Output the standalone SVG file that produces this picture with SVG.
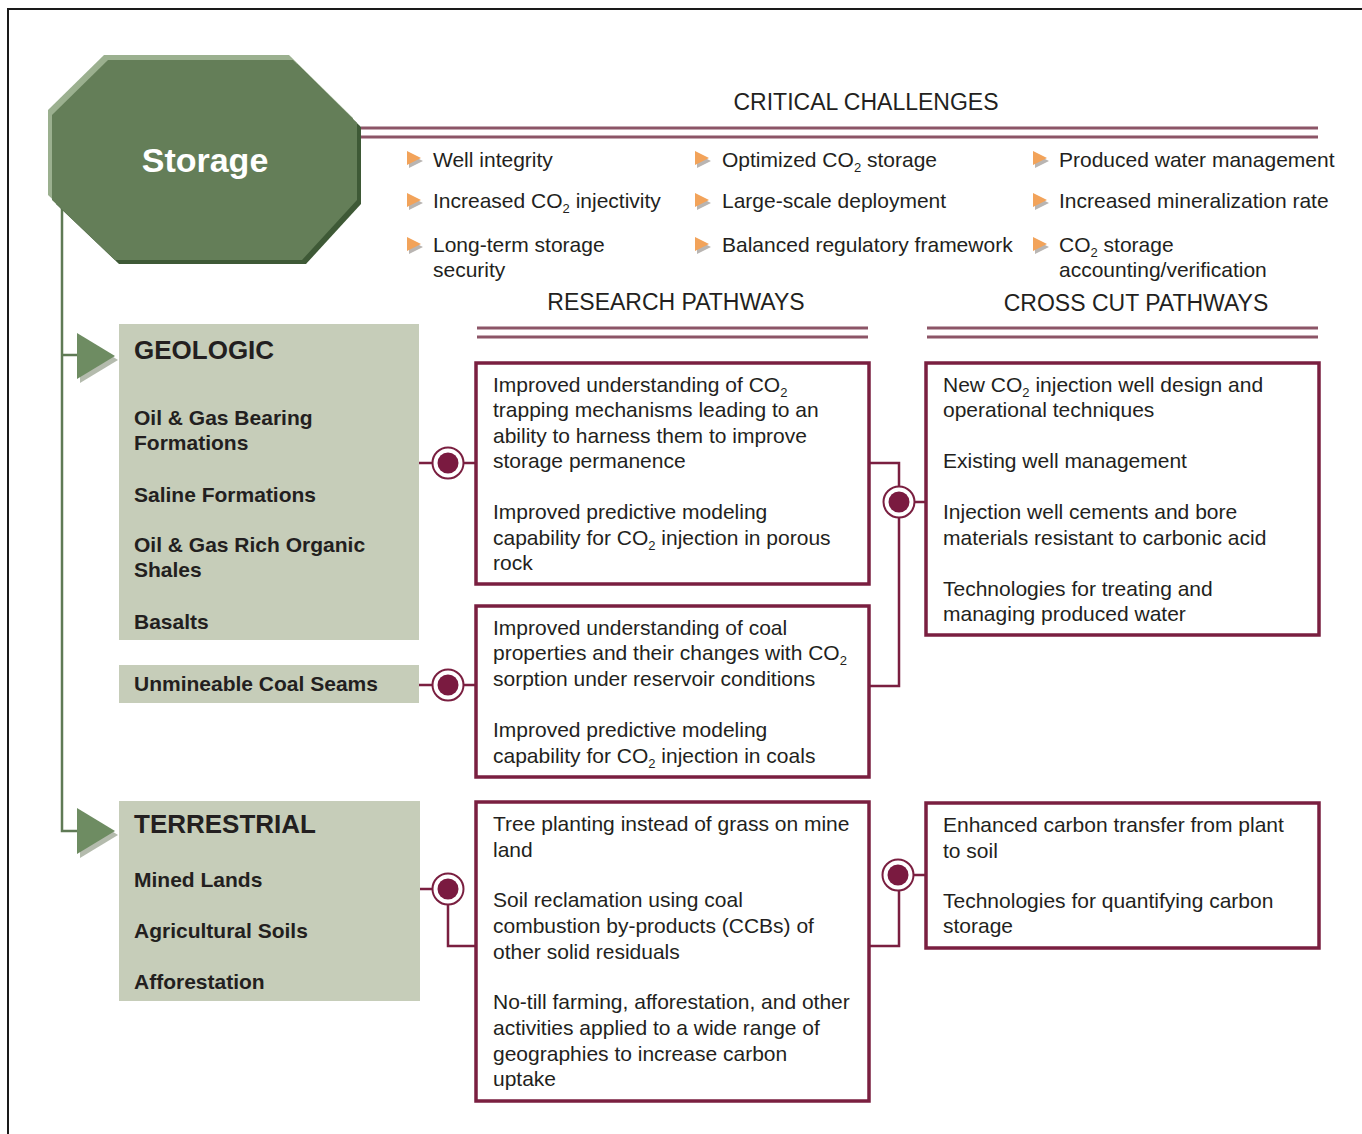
<svg xmlns="http://www.w3.org/2000/svg" xmlns:xlink="http://www.w3.org/1999/xlink" width="1362" height="1134" viewBox="0 0 1362 1134">
<style>
  text { font-family: "Liberation Sans", Arial, sans-serif; fill: #231f20; }
  .hdr { font-size: 23px; }
  .t { font-size: 21px; }
  .b { font-size: 21px; font-weight: bold; }
  .ttl { font-size: 26px; font-weight: bold; }
  .sub { font-size: 13px; }
  .box { fill: #ffffff; stroke: #7a1f40; stroke-width: 3.5; }
  .sage { fill: #c6cdb9; }
  .dl { stroke: #8c5567; stroke-width: 3; fill: none; }
  .conn { stroke: #7a1f40; stroke-width: 2.5; fill: none; }
  .gline { stroke: #5f7a55; stroke-width: 2.5; fill: none; }
</style>
<defs>
  <g id="bul">
    <polygon points="2,3 16,10 2,17" fill="#b9b5b2"/>
    <polygon points="0,0 14,7 0,14" fill="#f2a35a"/>
  </g>
  <g id="dot">
    <circle r="15.5" fill="#ffffff" stroke="#7a1f40" stroke-width="2"/>
    <circle r="10.5" fill="#7a1a40"/>
  </g>
  <g id="arr">
    <polygon points="3,3 41,27 3,50" fill="#b4bbad"/>
    <polygon points="0,0 38,23 0,46" fill="#6e8c62"/>
  </g>
</defs>
<rect x="8" y="9" width="1380" height="1150" fill="#ffffff" stroke="#1a1a1a" stroke-width="2"/>

<g id="connectors">
  <path class="gline" d="M62,205 V831 H78 M62,355 H78"/>
  <path class="conn" d="M419,463 H476"/>
  <path class="conn" d="M419,685 H476"/>
  <path class="conn" d="M420,889 H448 V946 H476"/>
  <path class="conn" d="M869,463 H899 V686 H869 M899,502 H926"/>
  <path class="conn" d="M869,946 H899 V875 H926"/>
  <use xlink:href="#dot" x="448" y="463"/>
  <use xlink:href="#dot" x="448" y="685"/>
  <use xlink:href="#dot" x="448" y="889"/>
  <use xlink:href="#dot" x="899" y="502"/>
  <use xlink:href="#dot" x="898" y="875"/>
  <use xlink:href="#arr" x="77" y="333"/>
  <use xlink:href="#arr" x="77" y="808"/>
</g>

<g id="storage">
  <polygon points="104,55 289,55 353,118 353,195 298,255 111,255 48,195 48,110" fill="#9bb08f"/>
  <polygon points="112,64 297,64 361,127 361,204 306,264 119,264 56,204 56,119" fill="#3e5936"/>
  <polygon points="108,60 293,60 357,123 357,200 302,260 115,260 52,200 52,115" fill="#647e58"/>
  <text x="205" y="172" text-anchor="middle" style="font-size:34px;font-weight:bold;fill:#ffffff">Storage</text>
</g>

<g id="critical-challenges">
  <text class="hdr" x="866" y="110" text-anchor="middle">CRITICAL CHALLENGES</text>
  <path class="dl" d="M361,128 H1318 M361,137 H1318"/>
  <use xlink:href="#bul" x="407" y="151"/>
  <use xlink:href="#bul" x="407" y="193"/>
  <use xlink:href="#bul" x="407" y="237"/>
  <use xlink:href="#bul" x="695" y="151"/>
  <use xlink:href="#bul" x="695" y="193"/>
  <use xlink:href="#bul" x="695" y="237"/>
  <use xlink:href="#bul" x="1033" y="151"/>
  <use xlink:href="#bul" x="1033" y="193"/>
  <use xlink:href="#bul" x="1033" y="237"/>
  <text class="t" x="433" y="167">Well integrity</text>
  <text class="t" x="433" y="208">Increased CO<tspan class="sub" dy="5">2</tspan><tspan dy="-5"> injectivity</tspan></text>
  <text class="t" x="433" y="252">Long-term storage</text>
  <text class="t" x="433" y="277">security</text>
  <text class="t" x="722" y="167">Optimized CO<tspan class="sub" dy="5">2</tspan><tspan dy="-5"> storage</tspan></text>
  <text class="t" x="722" y="208">Large-scale deployment</text>
  <text class="t" x="722" y="252">Balanced regulatory framework</text>
  <text class="t" x="1059" y="167">Produced water management</text>
  <text class="t" x="1059" y="208">Increased mineralization rate</text>
  <text class="t" x="1059" y="252">CO<tspan class="sub" dy="5">2</tspan><tspan dy="-5"> storage</tspan></text>
  <text class="t" x="1059" y="277">accounting/verification</text>
</g>

<g id="research-header">
  <text class="hdr" x="676" y="310" text-anchor="middle">RESEARCH PATHWAYS</text>
  <path class="dl" d="M477,328 H868 M477,337 H868"/>
</g>
<g id="crosscut-header">
  <text class="hdr" x="1136" y="311" text-anchor="middle">CROSS CUT PATHWAYS</text>
  <path class="dl" d="M927,328 H1318 M927,337 H1318"/>
</g>

<g id="geologic">
  <rect class="sage" x="119" y="324" width="300" height="316"/>
  <text class="ttl" x="134" y="359">GEOLOGIC</text>
  <text class="b" x="134" y="425">Oil &amp; Gas Bearing</text>
  <text class="b" x="134" y="450">Formations</text>
  <text class="b" x="134" y="502">Saline Formations</text>
  <text class="b" x="134" y="552">Oil &amp; Gas Rich Organic</text>
  <text class="b" x="134" y="577">Shales</text>
  <text class="b" x="134" y="629">Basalts</text>
</g>
<g id="coal">
  <rect class="sage" x="119" y="665" width="300" height="38"/>
  <text class="b" x="134" y="691">Unmineable Coal Seams</text>
</g>
<g id="terrestrial">
  <rect class="sage" x="119" y="801" width="301" height="200"/>
  <text class="ttl" x="134" y="833">TERRESTRIAL</text>
  <text class="b" x="134" y="887">Mined Lands</text>
  <text class="b" x="134" y="938">Agricultural Soils</text>
  <text class="b" x="134" y="989">Afforestation</text>
</g>

<g id="research-1">
  <rect class="box" x="476" y="363" width="393" height="221"/>
  <text class="t" x="493" y="392">Improved understanding of CO<tspan class="sub" dy="5">2</tspan></text>
  <text class="t" x="493" y="417">trapping mechanisms leading to an</text>
  <text class="t" x="493" y="443">ability to harness them to improve</text>
  <text class="t" x="493" y="468">storage permanence</text>
  <text class="t" x="493" y="519">Improved predictive modeling</text>
  <text class="t" x="493" y="545">capability for CO<tspan class="sub" dy="5">2</tspan><tspan dy="-5"> injection in porous</tspan></text>
  <text class="t" x="493" y="570">rock</text>
</g>
<g id="research-2">
  <rect class="box" x="476" y="606" width="393" height="171"/>
  <text class="t" x="493" y="635">Improved understanding of coal</text>
  <text class="t" x="493" y="660">properties and their changes with CO<tspan class="sub" dy="5">2</tspan></text>
  <text class="t" x="493" y="686">sorption under reservoir conditions</text>
  <text class="t" x="493" y="737">Improved predictive modeling</text>
  <text class="t" x="493" y="763">capability for CO<tspan class="sub" dy="5">2</tspan><tspan dy="-5"> injection in coals</tspan></text>
</g>
<g id="research-3">
  <rect class="box" x="476" y="802" width="393" height="299"/>
  <text class="t" x="493" y="831">Tree planting instead of grass on mine</text>
  <text class="t" x="493" y="857">land</text>
  <text class="t" x="493" y="907">Soil reclamation using coal</text>
  <text class="t" x="493" y="933">combustion by-products (CCBs) of</text>
  <text class="t" x="493" y="959">other solid residuals</text>
  <text class="t" x="493" y="1009">No-till farming, afforestation, and other</text>
  <text class="t" x="493" y="1035">activities applied to a wide range of</text>
  <text class="t" x="493" y="1061">geographies to increase carbon</text>
  <text class="t" x="493" y="1086">uptake</text>
</g>
<g id="crosscut-1">
  <rect class="box" x="926" y="363" width="393" height="272"/>
  <text class="t" x="943" y="392">New CO<tspan class="sub" dy="5">2</tspan><tspan dy="-5"> injection well design and</tspan></text>
  <text class="t" x="943" y="417">operational techniques</text>
  <text class="t" x="943" y="468">Existing well management</text>
  <text class="t" x="943" y="519">Injection well cements and bore</text>
  <text class="t" x="943" y="545">materials resistant to carbonic acid</text>
  <text class="t" x="943" y="596">Technologies for treating and</text>
  <text class="t" x="943" y="621">managing produced water</text>
</g>
<g id="crosscut-2">
  <rect class="box" x="926" y="803" width="393" height="145"/>
  <text class="t" x="943" y="832">Enhanced carbon transfer from plant</text>
  <text class="t" x="943" y="858">to soil</text>
  <text class="t" x="943" y="908">Technologies for quantifying carbon</text>
  <text class="t" x="943" y="933">storage</text>
</g>
</svg>
